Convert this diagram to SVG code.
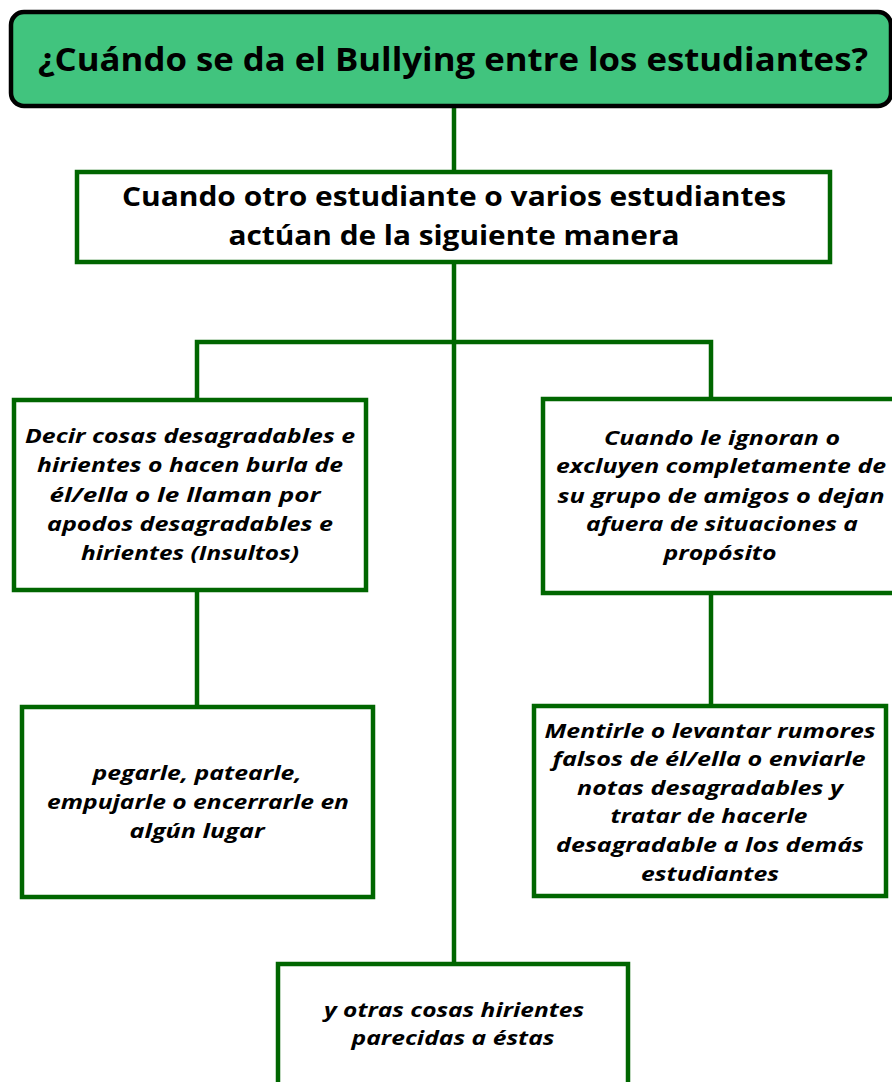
<svg xmlns="http://www.w3.org/2000/svg" width="892" height="1082" viewBox="0 0 892 1082">
<style>
.box{fill:#ffffff;stroke:#006600;stroke-width:4.5}
.title{fill:#41c47e;stroke:#000000;stroke-width:4.5}
.conn{stroke:#006600;stroke-width:4.5;fill:none}
text{lengthAdjust:spacingAndGlyphs}
.t1{font-family:"Open Sans","Liberation Sans",sans-serif;font-weight:bold;font-size:32px;fill:#000;text-anchor:middle}
.t2{font-family:"Open Sans","Liberation Sans",sans-serif;font-weight:bold;font-size:26px;fill:#000;text-anchor:middle}
.t3{font-family:"Open Sans","Liberation Sans",sans-serif;font-weight:bold;font-style:italic;font-size:19.5px;fill:#000;text-anchor:middle}
</style>
<rect width="892" height="1082" fill="#ffffff"/>
<g id="connectors">
<line class="conn" x1="454" y1="106" x2="454" y2="172"/>
<line class="conn" x1="454" y1="262" x2="454" y2="964"/>
<polyline class="conn" points="197,400 197,342 711,342 711,399"/>
<line class="conn" x1="197" y1="590" x2="197" y2="707"/>
<line class="conn" x1="711" y1="593" x2="711" y2="706"/>
</g>
<g id="title">
<rect class="title" x="11" y="12" width="880" height="94" rx="13"/>
<text class="t1" x="453" y="71" textLength="830" lengthAdjust="spacingAndGlyphs">¿Cuándo se da el Bullying entre los estudiantes?</text>
</g>
<g id="cuando">
<rect class="box" x="77" y="172" width="753" height="90"/>
<text class="t2" x="454" y="206" textLength="664" lengthAdjust="spacingAndGlyphs">Cuando otro estudiante o varios estudiantes</text>
<text class="t2" x="454" y="245" textLength="451" lengthAdjust="spacingAndGlyphs">actúan de la siguiente manera</text>
</g>
<g id="insultos">
<rect class="box" x="14" y="400" width="352" height="190"/>
<text class="t3" x="190" y="443" textLength="330" lengthAdjust="spacingAndGlyphs">Decir cosas desagradables e</text>
<text class="t3" x="190" y="472" textLength="306" lengthAdjust="spacingAndGlyphs">hirientes o hacen burla de</text>
<text class="t3" x="185" y="502" textLength="271" lengthAdjust="spacingAndGlyphs">él/ella o le llaman por</text>
<text class="t3" x="190" y="531" textLength="286" lengthAdjust="spacingAndGlyphs">apodos desagradables e</text>
<text class="t3" x="190" y="560" textLength="218" lengthAdjust="spacingAndGlyphs">hirientes (Insultos)</text>
</g>
<g id="ignoran">
<rect class="box" x="543" y="399" width="352" height="194"/>
<text class="t3" x="722" y="445" textLength="236" lengthAdjust="spacingAndGlyphs">Cuando le ignoran o</text>
<text class="t3" x="721" y="473" textLength="330" lengthAdjust="spacingAndGlyphs">excluyen completamente de</text>
<text class="t3" x="721" y="503" textLength="327" lengthAdjust="spacingAndGlyphs">su grupo de amigos o dejan</text>
<text class="t3" x="722" y="531" textLength="272" lengthAdjust="spacingAndGlyphs">afuera de situaciones a</text>
<text class="t3" x="720" y="560" textLength="113" lengthAdjust="spacingAndGlyphs">propósito</text>
</g>
<g id="pegarle">
<rect class="box" x="22" y="707" width="351" height="190"/>
<text class="t3" x="197" y="780" textLength="209" lengthAdjust="spacingAndGlyphs">pegarle, patearle,</text>
<text class="t3" x="198" y="809" textLength="302" lengthAdjust="spacingAndGlyphs">empujarle o encerrarle en</text>
<text class="t3" x="197" y="838" textLength="135" lengthAdjust="spacingAndGlyphs">algún lugar</text>
</g>
<g id="mentirle">
<rect class="box" x="534" y="706" width="352" height="190"/>
<text class="t3" x="710" y="738" textLength="331" lengthAdjust="spacingAndGlyphs">Mentirle o levantar rumores</text>
<text class="t3" x="709" y="766" textLength="313" lengthAdjust="spacingAndGlyphs">falsos de él/ella o enviarle</text>
<text class="t3" x="710" y="795" textLength="266" lengthAdjust="spacingAndGlyphs">notas desagradables y</text>
<text class="t3" x="709" y="823" textLength="197" lengthAdjust="spacingAndGlyphs">tratar de hacerle</text>
<text class="t3" x="710" y="852" textLength="308" lengthAdjust="spacingAndGlyphs">desagradable a los demás</text>
<text class="t3" x="710" y="881" textLength="138" lengthAdjust="spacingAndGlyphs">estudiantes</text>
</g>
<g id="otras">
<rect class="box" x="278" y="964" width="350" height="130"/>
<text class="t3" x="454" y="1017" textLength="260" lengthAdjust="spacingAndGlyphs">y otras cosas hirientes</text>
<text class="t3" x="453" y="1045" textLength="203" lengthAdjust="spacingAndGlyphs">parecidas a éstas</text>
</g>
</svg>
